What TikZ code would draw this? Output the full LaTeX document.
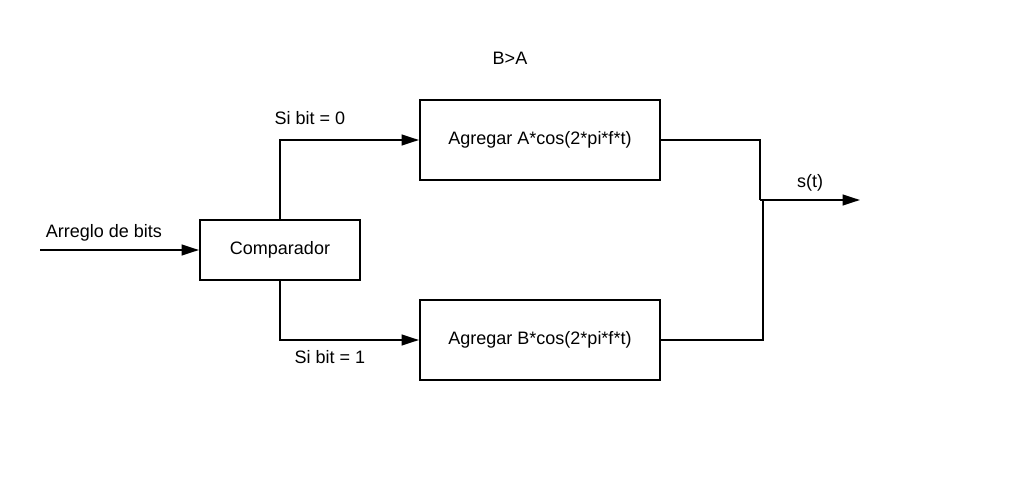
\documentclass[tikz,border=0pt]{standalone}
\usepackage{fontspec}
\setmainfont{Liberation Sans}
\usetikzlibrary{arrows.meta}
\begin{document}
\begin{tikzpicture}[x=0.75pt,y=-0.75pt,
  blk/.style={draw,line width=1.5pt,inner sep=0pt,font=\fontsize{13.5pt}{16pt}\selectfont},
  lbl/.style={inner sep=0pt,font=\fontsize{13.5pt}{16pt}\selectfont},
  wire/.style={line width=1.5pt},
  arr/.style={wire,-{Triangle[length=13pt,width=8pt]}}]
\useasboundingbox (0,0) rectangle (1018,492);
\node[blk,minimum width=120pt,minimum height=45pt] (cmp) at (280,250) {Comparador};
\node[blk,minimum width=180pt,minimum height=60pt] (ba) at (540,140) {Agregar A*cos(2*pi*f*t)};
\node[blk,minimum width=180pt,minimum height=60pt] (bb) at (540,340) {Agregar B*cos(2*pi*f*t)};
\coordinate (in) at (40,250);
\coordinate (j) at (760,200);
\coordinate (out) at (860,200);
\draw[arr] (in) -- (cmp.west);
\draw[arr] (cmp.north) |- (ba.west);
\draw[arr] (cmp.south) |- (bb.west);
\draw[wire] (ba.east) -| (j);
\draw[wire] (bb.east) -| ([xshift=2]j);
\draw[arr] (j) -- (out);
\node[lbl] (l1) at (104,233) {Arreglo de bits};
\node[lbl] (l2) at (310,118) {Si bit = 0};
\node[lbl] (l3) at (330,357) {Si bit = 1};
\node[lbl] (l4) at (810,183) {s(t)};
\node[lbl] (l5) at (510,58) {B>A};
\end{tikzpicture}
\end{document}
